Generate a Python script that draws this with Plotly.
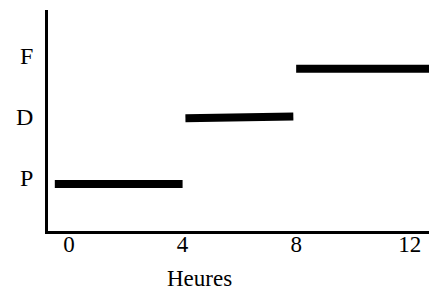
import plotly.graph_objects as go

# Data
states = ["P", "D", "F"]
state_levels = [1, 2, 3]
seg_start_h = [-0.5, 4.1, 8.0]
seg_end_h = [4.0, 7.9, 12.8]
seg_start_y = [0.9, 1.98, 2.79]
seg_end_y = [0.9, 2.01, 2.79]
x_ticks = [0, 4, 8, 12]
x_title = "Heures"

fig = go.Figure()
for xs, xe, ys, ye in zip(seg_start_h, seg_end_h, seg_start_y, seg_end_y):
    fig.add_trace(go.Scatter(x=[xs, xe], y=[ys, ye], mode="lines",
                             line=dict(color="black", width=8),
                             showlegend=False, hoverinfo="skip"))

serif = "Liberation Serif, Times New Roman, serif"
font = dict(family=serif, size=23, color="black")
yfont = dict(family=serif, size=24, color="black")

# page body has an 8px margin, so the figure is 8px smaller and margins shifted
fig.update_layout(
    width=429, height=282,
    margin=dict(l=40, r=0, t=2, b=59, pad=0),
    paper_bgcolor="white", plot_bgcolor="white",
    font=font,
    xaxis=dict(range=[-0.74, 12.96], tickvals=x_ticks, ticktext=[str(v) for v in x_ticks],
               showline=True, linecolor="black", linewidth=2.5, showgrid=False,
               zeroline=False, ticks="", ticklen=0, ticklabelstandoff=-9, tickfont=font),
    yaxis=dict(range=[0.131, 3.754], tickvals=state_levels, ticktext=states,
               showline=True, linecolor="black", linewidth=2.5, showgrid=False,
               zeroline=False, ticks="", ticklen=0, ticklabelstandoff=7, tickfont=yfont),
    annotations=[dict(text=x_title, xref="paper", yref="paper",
                      x=(199 - 48) / 389, y=-(278 - 231) / 221,
                      xanchor="center", yanchor="middle", showarrow=False, font=font)],
)

fig.write_html("out.html")
